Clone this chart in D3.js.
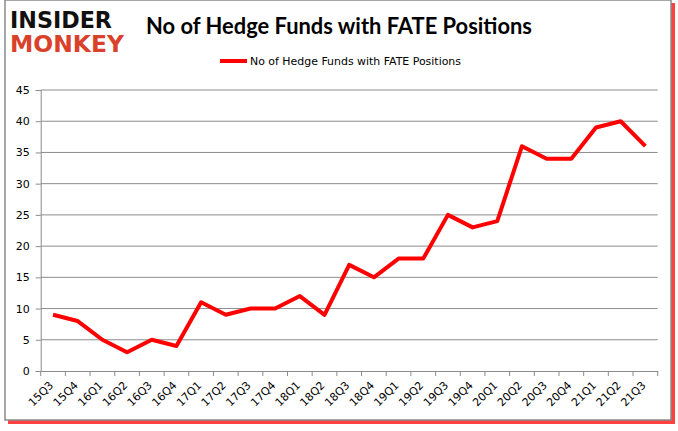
<!DOCTYPE html>
<html><head><meta charset="utf-8">
<script src="https://cdn.jsdelivr.net/npm/d3@7"></script>
<style>body{margin:0;background:#fff}svg{display:block}</style>
</head><body>
<svg id="c" width="678" height="431"></svg>
<script>
const categories = ["15Q3","15Q4","16Q1","16Q2","16Q3","16Q4","17Q1","17Q2","17Q3","17Q4","18Q1","18Q2","18Q3","18Q4","19Q1","19Q2","19Q3","19Q4","20Q1","20Q2","20Q3","20Q4","21Q1","21Q2","21Q3"];
const values = [9,8,5,3,5,4,11,9,10,10,12,9,17,15,18,18,25,23,24,36,34,34,39,40,36];
const yTicks = [0,5,10,15,20,25,30,35,40,45];
const title = "No of Hedge Funds with FATE Positions";
const seriesName = "No of Hedge Funds with FATE Positions";

const svg = d3.select("#c");
// frame with red shadow
svg.append("rect").attr("x",8).attr("y",3).attr("width",667).attr("height",421).attr("fill","#ff2020").attr("opacity",0.85);
svg.append("rect").attr("x",5).attr("y",0).attr("width",666).attr("height",420).attr("fill","#fff").attr("stroke","#8a8a8a").attr("stroke-width",1.5);

// logo
svg.append("text").attr("x",10).attr("y",28).attr("font-family","DejaVu Sans").attr("font-weight","bold")
  .attr("font-size",23).attr("textLength",102).attr("lengthAdjust","spacingAndGlyphs").attr("fill","#111").text("INSIDER");
svg.append("text").attr("x",10).attr("y",52).attr("font-family","DejaVu Sans").attr("font-weight","bold")
  .attr("font-size",23).attr("textLength",114).attr("lengthAdjust","spacingAndGlyphs").attr("fill","#d9412b").text("MONKEY");

// title
svg.append("text").attr("x",339).attr("y",34).attr("text-anchor","middle").attr("font-family","Lato, 'Open Sans', sans-serif")
  .attr("font-weight","bold").attr("font-size",22).attr("textLength",386).attr("lengthAdjust","spacingAndGlyphs")
  .attr("fill","#000").text(title);

// legend
svg.append("line").attr("x1",220).attr("x2",247).attr("y1",61).attr("y2",61).attr("stroke","#ff0000").attr("stroke-width",4);
svg.append("text").attr("x",250).attr("y",65).attr("font-family","'DejaVu Sans', sans-serif").attr("font-size",11)
  .attr("textLength",211).attr("lengthAdjust","spacingAndGlyphs").attr("fill","#000").text(seriesName);

const x = d3.scaleBand().domain(categories).range([40.7,657.7]);
const y = d3.scaleLinear().domain([0,45]).range([371,90]);

// gridlines
svg.append("g").selectAll("line").data(yTicks.filter(d=>d>0)).join("line")
  .attr("x1",40.7).attr("x2",657.7).attr("y1",d=>y(d)).attr("y2",d=>y(d)).attr("stroke","#8c8c8c").attr("stroke-width",1);

// y axis
const ya = svg.append("g").attr("transform","translate(40.7,0)").call(d3.axisLeft(y).tickValues(yTicks).tickSize(5).tickPadding(6));
ya.select(".domain").attr("stroke","#8c8c8c");
ya.selectAll(".tick line").attr("stroke","#8c8c8c");
ya.selectAll("text").attr("font-family","'DejaVu Sans', sans-serif").attr("font-size",11).attr("fill","#000");

// x axis
const xa = svg.append("g").attr("transform","translate(0,371)").call(d3.axisBottom(x).tickSize(0).tickPadding(0));
xa.select(".domain").attr("stroke","#8c8c8c");
xa.selectAll(".tick line").remove();
const bounds = categories.map(c=>x(c)).concat([x(categories[categories.length-1])+x.bandwidth()]);
svg.append("g").selectAll("line").data(bounds).join("line")
  .attr("x1",d=>d).attr("x2",d=>d).attr("y1",371).attr("y2",376).attr("stroke","#8c8c8c");
xa.selectAll("text").attr("font-family","'DejaVu Sans', sans-serif").attr("font-size",11).attr("fill","#000")
  .attr("text-anchor","end").attr("dy","0").attr("transform","translate(1,15) rotate(-45)");

// line
const line = d3.line().x((d,i)=>x(categories[i])+x.bandwidth()/2).y(d=>y(d));
svg.append("path").datum(values).attr("d",line).attr("fill","none").attr("stroke","#ff0000")
  .attr("stroke-width",4).attr("stroke-linejoin","round");
</script>
</body></html>
